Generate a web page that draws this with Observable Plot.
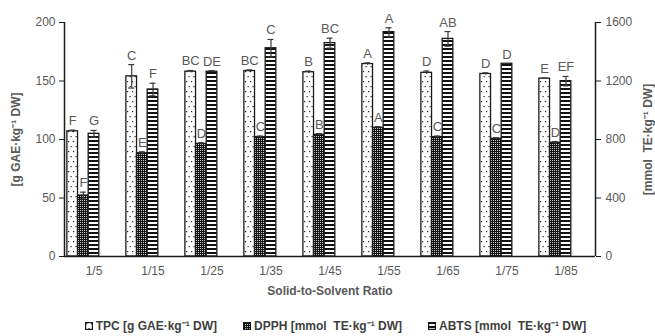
<!DOCTYPE html>
<html><head><meta charset="utf-8">
<script src="https://cdn.jsdelivr.net/npm/d3@7"></script>
<script src="https://cdn.jsdelivr.net/npm/@observablehq/plot@0.6"></script>
<style>
body{margin:0;background:#fff;font-family:"Liberation Sans",Arial,sans-serif;}
#legend{display:flex;justify-content:center;gap:26px;margin-top:12px;margin-left:16px;font-size:12px;font-weight:bold;color:#404040;}
.item{display:flex;align-items:center;gap:3px;white-space:pre}
g[aria-label="y-axis label"] text, g[aria-label="fx-axis label"] text{font-weight:bold;font-size:12px;}
</style></head><body>
<div id="chart"></div>
<div id="legend"></div>
<script>
const ratios = ["1/5","1/15","1/25","1/35","1/45","1/55","1/65","1/75","1/85"];
const seriesNames = ["TPC [g GAE·kg⁻¹ DW]","DPPH [mmol  TE·kg⁻¹ DW]","ABTS [mmol  TE·kg⁻¹ DW]"];
// TPC in g GAE/kg DW (left axis)
const tpc =    [107, 154, 158, 158.5, 157.5, 164.5, 157, 156, 152];
const tpcErr = [1, 10, 1, 1, 1, 1, 1.5, 1, 0.5];
const tpcLetters = ["F","C","BC","BC","B","A","D","D","E"];
// DPPH in mmol TE/kg DW (right axis)
const dpph =    [417, 706, 770, 816, 832, 880, 816, 805, 778];
const dpphErr = [23, 10, 8, 8, 8, 8, 8, 8, 8];
const dpphLetters = ["F","E","D","C","B","A","C","C","D"];
// ABTS in mmol TE/kg DW (right axis)
const abts =    [839, 1142, 1263, 1424, 1459, 1534, 1488, 1318, 1199];
const abtsErr = [23, 43, 8, 60, 34, 30, 50, 0, 32];
const abtsLetters = ["G","F","DE","C","BC","A","AB","D","EF"];
const leftTicks = [0, 50, 100, 150, 200];
const rightTicks = [0, 400, 800, 1200, 1600];
const rightFactor = rightTicks[rightTicks.length-1] / leftTicks[leftTicks.length-1];

const patterns = ["pTPC","pDPPH","pABTS"];
const slotPad = 0.27;
const nSlots = 5; // 3 series + 2 empty slots (as in the source chart)
const xMax = nSlots + 2*slotPad;

const rows = [];
ratios.forEach((r,i)=>{
  rows.push({ratio:r, s:0, value:tpc[i], err:tpcErr[i], letter:tpcLetters[i]});
  rows.push({ratio:r, s:1, value:dpph[i]/rightFactor, err:dpphErr[i]/rightFactor, letter:dpphLetters[i]});
  rows.push({ratio:r, s:2, value:abts[i]/rightFactor, err:abtsErr[i]/rightFactor, letter:abtsLetters[i]});
});
const cx = d => slotPad + d.s + 0.5;
const withErr = rows.filter(d => d.err > 0);
const ink = "#1a1a1a", gray = "#595959";

const svg = Plot.plot({
  width: 655, height: 305,
  marginLeft: 62, marginRight: 58, marginTop: 22, marginBottom: 49,
  style: {fontFamily: "Liberation Sans, Arial, sans-serif", fontSize: "12px", background: "#fff"},
  fx: {domain: ratios, padding: 0},
  x: {domain: [0, xMax], axis: null},
  y: {domain: [leftTicks[0], leftTicks[leftTicks.length-1]]},
  marks: [
    ...[0,1,2].map(s => Plot.rectY(rows.filter(d=>d.s===s), {
      fx: "ratio", x1: d => slotPad + d.s, x2: d => slotPad + d.s + 1, y1: 0, y2: "value",
      fill: `url(#${patterns[s]})`, stroke: ink, strokeWidth: 1.3
    })),
    Plot.ruleX(withErr, {fx: "ratio", x: cx, y1: d => d.value - d.err, y2: d => d.value + d.err, stroke: "#3a3a3a", strokeWidth: 1.2}),
    Plot.ruleY(withErr, {fx: "ratio", y: d => d.value + d.err, x1: d => cx(d) - 0.28, x2: d => cx(d) + 0.28, stroke: "#3a3a3a", strokeWidth: 1.2}),
    Plot.ruleY(withErr.filter(d=>d.err*1.17>2), {fx: "ratio", y: d => d.value - d.err, x1: d => cx(d) - 0.28, x2: d => cx(d) + 0.28, stroke: "#3a3a3a", strokeWidth: 1.2}),
    Plot.text(rows, {fx: "ratio", x: cx, y: d => d.value + d.err, text: "letter", dy: -5, lineAnchor: "bottom", fill: gray, fontSize: 13}),
    Plot.ruleY([leftTicks[0]], {stroke: ink, strokeWidth: 1.5}),
    Plot.ruleX([{ratio: ratios[0]}], {fx: "ratio", x: () => 0, y1: () => leftTicks[0], y2: () => leftTicks[leftTicks.length-1], stroke: ink, strokeWidth: 1.5}),
    Plot.ruleX([{ratio: ratios[ratios.length-1]}], {fx: "ratio", x: () => xMax, y1: () => leftTicks[0], y2: () => leftTicks[leftTicks.length-1], stroke: ink, strokeWidth: 1.5}),
    Plot.axisY(leftTicks, {anchor: "left", tickSize: 5, tickPadding: 4, stroke: ink, fill: gray, fontSize: 12,
      label: "[g GAE·kg⁻¹ DW]", labelAnchor: "center", labelOffset: 53, labelArrow: "none"}),
    Plot.axisY(rightTicks.map(v => v/rightFactor), {anchor: "right", tickSize: 5, tickPadding: 5, stroke: ink, fill: gray, fontSize: 12,
      tickFormat: v => String(v*rightFactor), label: "[mmol  TE·kg⁻¹ DW]", labelAnchor: "center", labelOffset: 56, labelArrow: "none"}),
    Plot.axisFx({anchor: "bottom", tickSize: 0, tickPadding: 10, fill: gray, fontSize: 12,
      label: "Solid-to-Solvent Ratio", labelAnchor: "center", labelOffset: 38, labelArrow: "none"})
  ]
});

const defs = d3.select(svg).insert("defs", ":first-child");
const p1 = defs.append("pattern").attr("id","pTPC").attr("patternUnits","userSpaceOnUse").attr("width",5).attr("height",10);
p1.append("rect").attr("width",5).attr("height",10).attr("fill","#fff");
p1.append("rect").attr("x",1).attr("y",1).attr("width",1.2).attr("height",1.2).attr("fill","#222");
p1.append("rect").attr("x",3.5).attr("y",6).attr("width",1.2).attr("height",1.2).attr("fill","#222");
const p2 = defs.append("pattern").attr("id","pDPPH").attr("patternUnits","userSpaceOnUse").attr("width",2).attr("height",2);
p2.append("rect").attr("width",2).attr("height",2).attr("fill","#111");
p2.append("rect").attr("width",1).attr("height",1).attr("fill","#cfcfcf");
const p3 = defs.append("pattern").attr("id","pABTS").attr("patternUnits","userSpaceOnUse").attr("width",4).attr("height",4);
p3.append("rect").attr("width",4).attr("height",4).attr("fill","#fff");
p3.append("rect").attr("width",4).attr("height",2).attr("fill","#111");

document.getElementById("chart").appendChild(svg);

const legend = d3.select("#legend");
seriesNames.forEach((name, s) => {
  const it = legend.append("div").attr("class","item");
  const sw = it.append("svg").attr("width",8).attr("height",8);
  sw.append("rect").attr("x",0.6).attr("y",0.6).attr("width",6.8).attr("height",6.8)
    .attr("fill",`url(#${patterns[s]})`).attr("stroke",ink).attr("stroke-width",1.2);
  it.append("span").text(name);
});
</script>
</body></html>
